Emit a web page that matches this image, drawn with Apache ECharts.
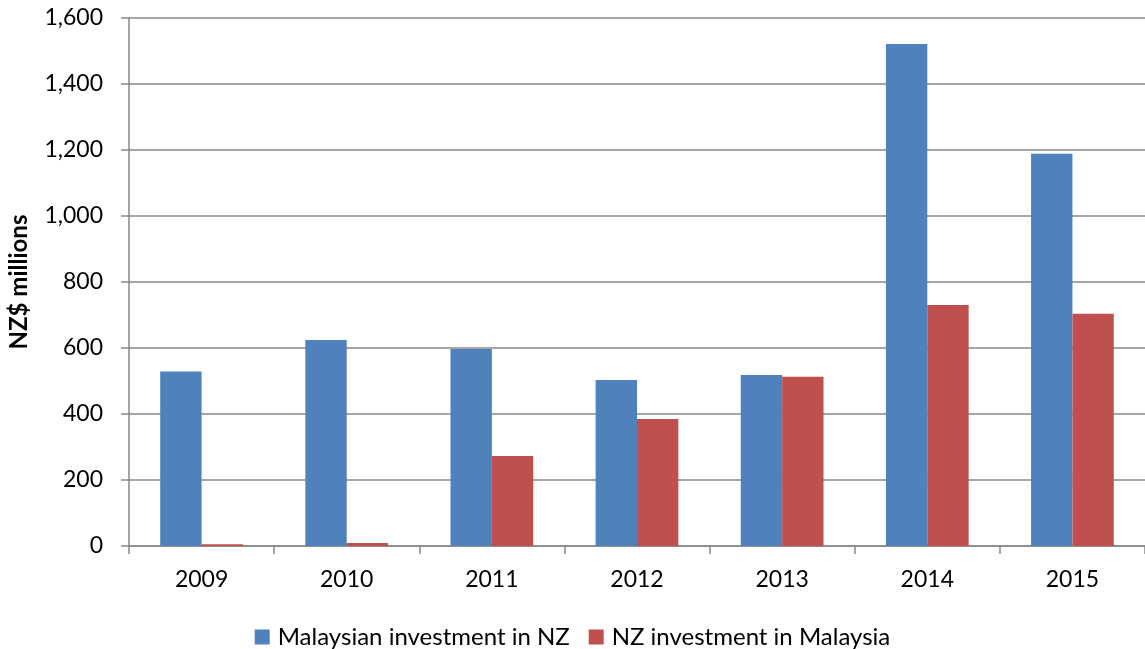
<!DOCTYPE html>
<html>
<head>
<meta charset="utf-8">
<script src="https://cdn.jsdelivr.net/npm/echarts@6/dist/echarts.min.js"></script>
<style>
  html, body { margin: 0; padding: 0; background: #fff; }
  #main { width: 1145px; height: 649px; }
</style>
</head>
<body>
<div id="main"></div>
<script>
const years = ['2009', '2010', '2011', '2012', '2013', '2014', '2015']
const malaysianInNZ = [529, 624, 597, 503, 518, 1521, 1189]
const nzInMalaysia = [5, 9, 273, 385, 513, 730, 704]

const chart = echarts.init(document.getElementById('main'))
const font = 'Lato, "Open Sans", sans-serif'

const option = {
  animation: false,
  textStyle: { fontFamily: font },
  grid: { left: 129, right: 0, top: 18, bottom: 103, outerBoundsMode: 'none', containLabel: false },
  legend: {
    top: 620,
    left: 'center',
    itemWidth: 15,
    itemHeight: 15,
    itemGap: 19,
    icon: 'rect',
    textStyle: { fontSize: 24, color: '#000', fontFamily: font, padding: [0, 0, 0, 3] },
    data: ['Malaysian investment in NZ', 'NZ investment in Malaysia']
  },
  xAxis: {
    type: 'category',
    data: years,
    axisLine: { lineStyle: { color: '#888', width: 1.5 } },
    axisTick: { show: true, length: 8, lineStyle: { color: '#888', width: 1.5 } },
    axisLabel: { fontSize: 23, color: '#000', margin: 22 }
  },
  yAxis: {
    type: 'value',
    min: 0,
    max: 1600,
    interval: 200,
    name: 'NZ$ millions',
    nameLocation: 'middle',
    nameRotate: 90,
    nameGap: 98,
    nameTextStyle: { fontSize: 24, fontWeight: 'bold', color: '#000' },
    axisLine: { show: true, lineStyle: { color: '#888', width: 1.5 } },
    axisTick: { show: true, length: 8, lineStyle: { color: '#888', width: 1.5 } },
    axisLabel: {
      fontSize: 23, color: '#000', margin: 26,
      formatter: v => v.toLocaleString('en-US')
    },
    splitLine: { lineStyle: { color: '#888', width: 1.5 } }
  },
  series: [
    {
      name: 'Malaysian investment in NZ',
      type: 'bar',
      data: malaysianInNZ,
      barGap: '0%',
      barCategoryGap: '43%',
      itemStyle: { color: '#4F81BD' }
    },
    {
      name: 'NZ investment in Malaysia',
      type: 'bar',
      data: nzInMalaysia,
      itemStyle: { color: '#C0504D' }
    }
  ]
}

chart.setOption(option)
</script>
</body>
</html>
